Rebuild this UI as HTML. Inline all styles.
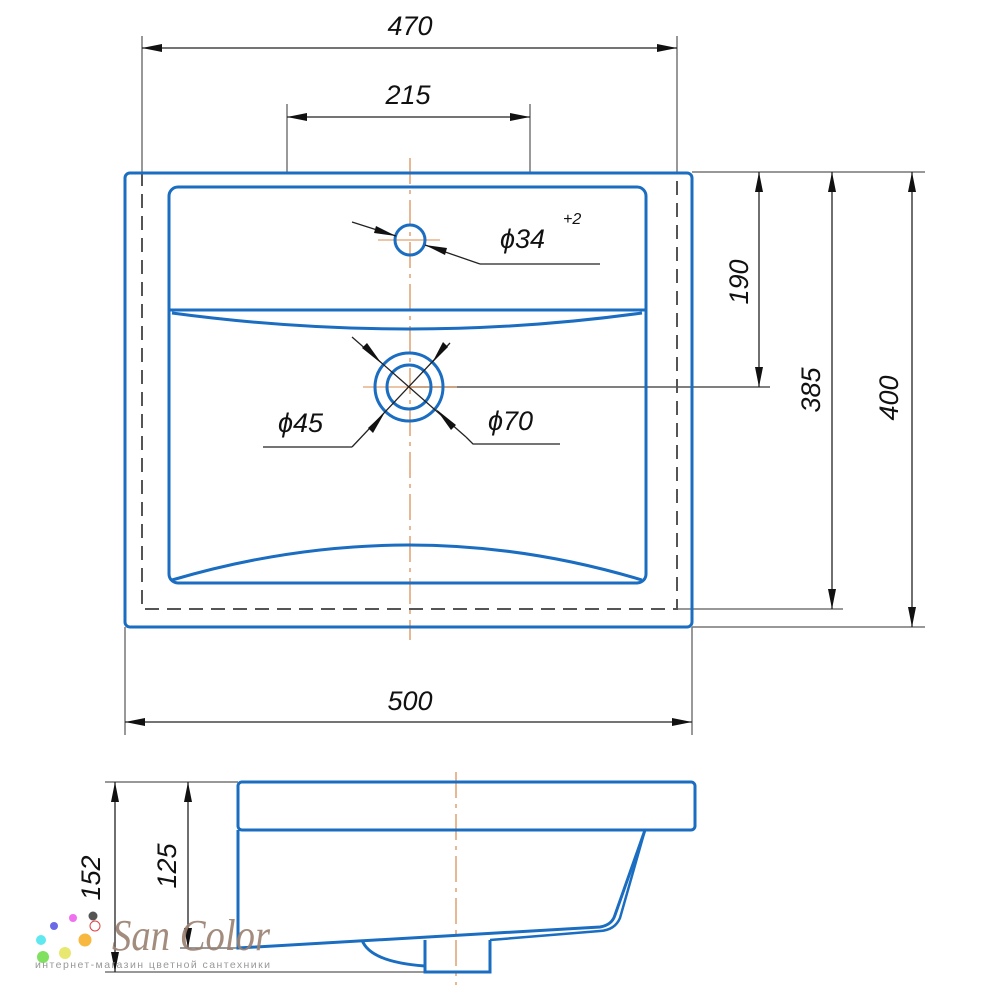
<!DOCTYPE html>
<html><head><meta charset="utf-8"><style>
html,body{margin:0;padding:0;background:#fff;}
svg{display:block}
.d{font-family:"Liberation Sans",sans-serif;font-style:italic;font-size:27px;fill:#111;}
</style></head><body>
<svg width="1000" height="1000" viewBox="0 0 1000 1000" xmlns="http://www.w3.org/2000/svg">
<defs>
<marker id="a" viewBox="0 0 20 8" refX="20" refY="4" markerWidth="20" markerHeight="8" markerUnits="userSpaceOnUse" orient="auto-start-reverse"><path d="M0,0 L20,4 L0,8 Z" fill="#111"/></marker>
</defs>
<g stroke="#777" stroke-width="1.5" fill="none">
<line x1="142" y1="36" x2="142" y2="172"/>
<line x1="677" y1="36" x2="677" y2="172"/>
<line x1="287" y1="104" x2="287" y2="172"/>
<line x1="530" y1="104" x2="530" y2="172"/>
<line x1="125" y1="627" x2="125" y2="735"/>
<line x1="692" y1="627" x2="692" y2="735"/>
<line x1="692" y1="172" x2="925" y2="172"/>
<line x1="692" y1="627" x2="925" y2="627"/>
<line x1="677" y1="609" x2="843" y2="609"/>
<line x1="410" y1="387" x2="770" y2="387" stroke="#555"/>
<line x1="105" y1="782" x2="238" y2="782"/>
<line x1="105" y1="972" x2="425" y2="972"/>
<line x1="180" y1="948" x2="238" y2="948"/>
</g>
<g stroke="#222" stroke-width="1.3" fill="none" marker-start="url(#a)" marker-end="url(#a)">
<line x1="142" y1="48" x2="677" y2="48"/>
<line x1="287" y1="117" x2="530" y2="117"/>
<line x1="125" y1="722" x2="692" y2="722"/>
<line x1="759" y1="172" x2="759" y2="387"/>
<line x1="832" y1="172" x2="832" y2="609"/>
<line x1="912" y1="172" x2="912" y2="627"/>
<line x1="115" y1="782" x2="115" y2="972"/>
<line x1="188" y1="782" x2="188" y2="948"/>
</g>
<path d="M142,172 V609 H677 V172" fill="none" stroke="#555" stroke-width="2" stroke-dasharray="14,8"/>
<g stroke="#e0a070" stroke-width="1.5" stroke-dasharray="26,6,4,6">
<line x1="410" y1="158" x2="410" y2="640"/>
<line x1="456" y1="772" x2="456" y2="985"/>
</g>
<line x1="378" y1="240" x2="440" y2="240" stroke="#e0a070" stroke-width="1.3"/>
<line x1="363" y1="387" x2="457" y2="387" stroke="#e0a070" stroke-width="1.3"/>
<g stroke="#1a6dc0" stroke-width="3" fill="none">
<rect x="125" y="173" width="567" height="454" rx="5"/>
<rect x="169" y="187" width="477" height="396" rx="9"/>
<line x1="170" y1="310" x2="645" y2="310"/>
<path d="M172,313 Q410,345 642,313"/>
<path d="M172,580 Q410,510 642,580"/>
<circle cx="410" cy="240" r="15"/>
<circle cx="409" cy="387" r="34"/>
<circle cx="409" cy="387" r="22"/>
<rect x="238" y="782" width="457" height="48" rx="4"/>
<path d="M238,830 V948 L600,927 Q612,925 615,915 L645,830"/>
<path d="M490,940 L600,931 Q615,930 620,918 L645,830" stroke-width="2.5"/>
<path d="M362,940 Q370,962 425,966 L425,972 L490,972 L490,940"/>
<line x1="425" y1="940" x2="425" y2="966"/>
</g>
<g stroke="#222" stroke-width="1.3" fill="none">
<line x1="352" y1="222" x2="396" y2="236"/>
<line x1="425" y1="245" x2="480" y2="264"/>
<polyline points="480,264 600,264"/>
<line x1="352" y1="337" x2="466" y2="437"/>
<line x1="450" y1="343" x2="352" y2="447"/>
<polyline points="352,447 263,447"/>
<polyline points="466,437 473,444 560,444"/>
</g>
<g fill="#111">
<path d="M396,236 L376,226 L374,233 Z"/>
<path d="M425,245 L445,255 L447,248 Z"/>
<path d="M382,364 L362,348 L367,343 Z"/>
<path d="M436,409 L456,425 L451,430 Z"/>
<path d="M432,363 L448,347 L443,342 Z"/>
<path d="M385,412 L368,428 L373,433 Z"/>
</g>
<text class="d" x="410" y="35" text-anchor="middle">470</text>
<text class="d" x="408" y="104" text-anchor="middle">215</text>
<text class="d" x="410" y="710" text-anchor="middle">500</text>
<text class="d" x="500" y="248">ϕ34</text>
<text class="d" x="563" y="224" style="font-size:16px">+2</text>
<text class="d" x="278" y="432">ϕ45</text>
<text class="d" x="488" y="430">ϕ70</text>
<text class="d" transform="translate(748,282) rotate(-90)" text-anchor="middle">190</text>
<text class="d" transform="translate(820,390) rotate(-90)" text-anchor="middle">385</text>
<text class="d" transform="translate(898,398) rotate(-90)" text-anchor="middle">400</text>
<text class="d" transform="translate(100,878) rotate(-90)" text-anchor="middle">152</text>
<text class="d" transform="translate(176,866) rotate(-90)" text-anchor="middle">125</text>
<g>
<circle cx="54" cy="926" r="4" fill="#6a6ae8"/>
<circle cx="73" cy="918" r="4" fill="#f070f0"/>
<circle cx="93" cy="916" r="4.5" fill="#555"/>
<circle cx="95" cy="926" r="5" fill="#fff" stroke="#d44" stroke-width="1"/>
<circle cx="41" cy="940" r="5" fill="#60e8f0"/>
<circle cx="85" cy="940" r="6.5" fill="#f8b840"/>
<circle cx="43" cy="957" r="6" fill="#80e060"/>
<circle cx="65" cy="953" r="6" fill="#e8e870"/>
<text x="112" y="950" textLength="158" lengthAdjust="spacingAndGlyphs" style="font-family:'Liberation Serif',serif;font-style:italic;font-size:44px;fill:#9a8070;opacity:.9">San Color</text>
<text x="35" y="968" textLength="235" style="font-family:'Liberation Sans',sans-serif;font-size:10.5px;fill:#999">интернет-магазин цветной сантехники</text>
</g>
</svg>
</body></html>
